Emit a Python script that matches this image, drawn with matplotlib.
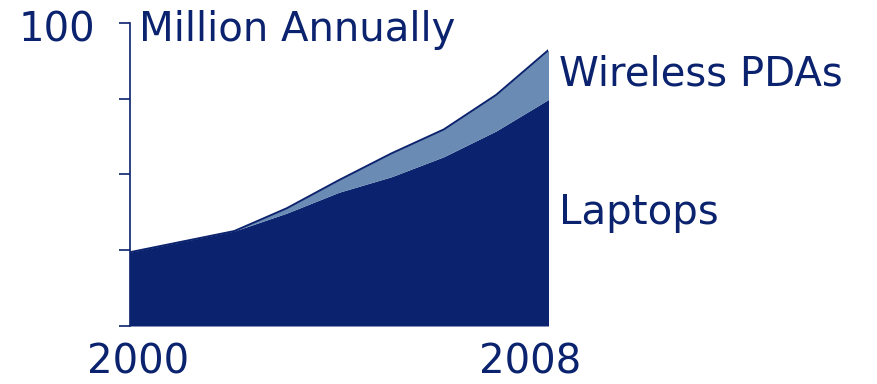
import matplotlib
matplotlib.use("Agg")
import matplotlib.pyplot as plt
import numpy as np

# Annual shipments, millions
years = [2000, 2001, 2002, 2003, 2004, 2005, 2006, 2007, 2008]
laptops = [24.3, 27.8, 31.3, 37.2, 44.1, 49.2, 55.8, 64.3, 74.7]
wireless_pdas = [0.0, 0.0, 0.0, 1.6, 4.0, 7.7, 9.0, 11.9, 16.3]
y_ticks = [0, 25, 50, 75, 100]

NAVY = "#0b236e"
STEEL = "#6a8cb4"

W, H = 877, 384
fig = plt.figure(figsize=(W / 100, H / 100), dpi=100)
ax = fig.add_axes([129.5 / W, (H - 326) / H, (548.5 - 129.5) / W, (326 - 22.7) / H])

lap = np.array(laptops)
total = lap + np.array(wireless_pdas)

ax.fill_between(years, 0, lap, color=NAVY, linewidth=0)
ax.fill_between(years, lap, total, color=STEEL, linewidth=0)
ax.plot(years, total, color=NAVY, linewidth=1.4, solid_joinstyle="round")

ax.set_xlim(years[0], years[-1])
ax.set_ylim(0, 100)
ax.set_yticks(y_ticks)
ax.set_yticklabels([])
ax.set_xticks([])
ax.tick_params(axis="y", direction="out", length=8, width=1.2, color=NAVY)
for side in ("top", "right", "bottom"):
    ax.spines[side].set_visible(False)
ax.spines["left"].set_color(NAVY)
ax.spines["left"].set_linewidth(1.2)

fs = 29
fig.text(57 / W, 1 - 30 / H, "100", color=NAVY, fontsize=fs, ha="center", va="center")
fig.text(139 / W, 1 - 30 / H, "Million Annually", color=NAVY, fontsize=fs, ha="left", va="center")
fig.text(559 / W, 1 - 75 / H, "Wireless PDAs", color=NAVY, fontsize=fs, ha="left", va="center")
fig.text(559 / W, 1 - 213 / H, "Laptops", color=NAVY, fontsize=fs, ha="left", va="center")
fig.text(138 / W, 1 - 363 / H, "2000", color=NAVY, fontsize=fs, ha="center", va="center")
fig.text(530 / W, 1 - 363 / H, "2008", color=NAVY, fontsize=fs, ha="center", va="center")

fig.savefig("out.png", dpi=100)
